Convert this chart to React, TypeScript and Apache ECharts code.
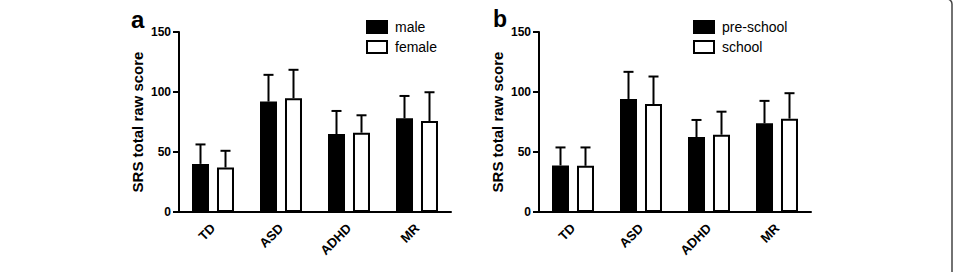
import React, { useEffect, useRef } from "react";
import * as echarts from "echarts";

// Groups on the x axis
const categories = ["TD", "ASD", "ADHD", "MR"];

// Panel a: by sex (mean and SD of SRS total raw score)
const maleMean = [40.1, 92.0, 65.0, 78.1];
const maleSD = [16.2, 22.3, 19.2, 18.6];
const femaleMean = [37.1, 94.8, 66.1, 75.8];
const femaleSD = [13.9, 23.7, 14.5, 24.0];

// Panel b: by age group
const preschoolMean = [38.8, 94.2, 62.4, 73.9];
const preschoolSD = [15.0, 22.6, 14.3, 18.7];
const schoolMean = [38.5, 90.0, 64.4, 77.8];
const schoolSD = [15.3, 22.9, 19.2, 21.2];

const yTicks = [0, 50, 100, 150];

const FONT = '"Liberation Sans", Arial, Helvetica, sans-serif';
const BAR_W = 17;
const BAR_OFFSET = 12.5;

function errorSeries(means: number[], sds: number[], offset: number, axis: number) {
  return {
    type: "custom",
    xAxisIndex: axis,
    yAxisIndex: axis,
    z: 3,
    silent: true,
    data: means.map((m, i) => [i, m, sds[i]]),
    encode: { x: 0, y: 1 },
    renderItem: (_params: any, api: any) => {
      const idx = api.value(0);
      const mean = api.value(1);
      const sd = api.value(2);
      const base = api.coord([idx, mean]);
      const top = api.coord([idx, mean + sd]);
      const x = base[0] + offset;
      const style = { stroke: "#000", lineWidth: 2 };
      return {
        type: "group",
        children: [
          { type: "line", shape: { x1: x, y1: base[1], x2: x, y2: top[1] }, style },
          { type: "line", shape: { x1: x - 5, y1: top[1], x2: x + 5, y2: top[1] }, style },
        ],
      };
    },
  };
}

function barSeries(name: string, values: number[], fill: string, axis: number) {
  return {
    type: "bar",
    name,
    xAxisIndex: axis,
    yAxisIndex: axis,
    data: values,
    barWidth: BAR_W,
    barGap: "47%",
    itemStyle: { color: fill, borderColor: "#000", borderWidth: 2 },
  };
}

function xAxis(grid: number) {
  return {
    type: "category",
    gridIndex: grid,
    data: categories,
    axisLine: { lineStyle: { color: "#000", width: 2 } },
    axisTick: { alignWithLabel: true, length: 5, lineStyle: { color: "#000", width: 2 } },
    axisLabel: {
      interval: 0,
      rotate: 45,
      margin: 14,
      color: "#000",
      fontFamily: FONT,
      fontWeight: "bold",
      fontSize: 13,
    },
  };
}

function yAxis(grid: number) {
  return {
    type: "value",
    gridIndex: grid,
    min: yTicks[0],
    max: yTicks[yTicks.length - 1],
    interval: yTicks[1] - yTicks[0],
    name: "SRS total raw score",
    nameLocation: "middle",
    nameGap: 34,
    nameTextStyle: { color: "#000", fontFamily: FONT, fontWeight: "bold", fontSize: 15 },
    axisLine: { show: true, lineStyle: { color: "#000", width: 2 } },
    axisTick: { show: true, length: 6, lineStyle: { color: "#000", width: 2 } },
    splitLine: { show: false },
    axisLabel: { margin: 8, color: "#000", fontFamily: FONT, fontWeight: "bold", fontSize: 12 },
  };
}

function legend(names: string[], left: number) {
  return {
    orient: "vertical",
    left,
    top: 20,
    padding: 0,
    itemWidth: 20,
    itemHeight: 12,
    itemGap: 6,
    icon: "rect",
    textStyle: { color: "#000", fontFamily: FONT, fontSize: 14, padding: [0, 0, 0, 3] },
    data: [
      { name: names[0], itemStyle: { color: "#000", borderColor: "#000", borderWidth: 2 } },
      { name: names[1], itemStyle: { color: "#fff", borderColor: "#000", borderWidth: 2 } },
    ],
  };
}

export default function App() {
  const ref = useRef<HTMLDivElement>(null);

  useEffect(() => {
    if (!ref.current) return;
    const chart = echarts.init(ref.current, null, { renderer: "svg" });
    chart.setOption({
      animation: false,
      backgroundColor: "#fff",
      title: [
        { text: "a", left: 131, top: 7, padding: 0, textStyle: { fontFamily: FONT, fontSize: 24, fontWeight: "bold", color: "#000" } },
        { text: "b", left: 493, top: 7, padding: 0, textStyle: { fontFamily: FONT, fontSize: 23, fontWeight: "bold", color: "#000" } },
      ],
      legend: [legend(["male", "female"], 366), legend(["pre-school", "school"], 693)],
      grid: [
        { left: 179, top: 32, width: 272, height: 180 },
        { left: 539, top: 32, width: 272, height: 180 },
      ],
      xAxis: [xAxis(0), xAxis(1)],
      yAxis: [yAxis(0), yAxis(1)],
      series: [
        barSeries("male", maleMean, "#000", 0),
        barSeries("female", femaleMean, "#fff", 0),
        errorSeries(maleMean, maleSD, -BAR_OFFSET, 0),
        errorSeries(femaleMean, femaleSD, BAR_OFFSET, 0),
        barSeries("pre-school", preschoolMean, "#000", 1),
        barSeries("school", schoolMean, "#fff", 1),
        errorSeries(preschoolMean, preschoolSD, -BAR_OFFSET, 1),
        errorSeries(schoolMean, schoolSD, BAR_OFFSET, 1),
      ],
      graphic: [
        {
          type: "rect",
          silent: true,
          shape: { x: -20, y: -1, width: 972, height: 320, r: 5 },
          style: { fill: "none", stroke: "#444", lineWidth: 1.5 },
        },
      ],
    });
    return () => chart.dispose();
  }, []);

  return (
    <div
      ref={ref}
      style={{ position: "fixed", left: 0, top: 0, width: 957, height: 272, background: "#fff" }}
    />
  );
}
